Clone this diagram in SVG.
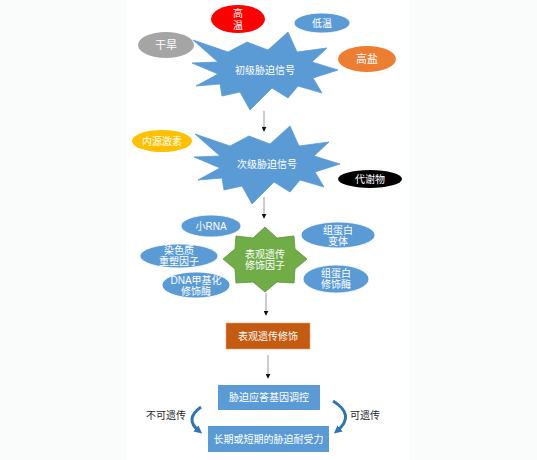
<svg xmlns="http://www.w3.org/2000/svg" width="537" height="460" viewBox="0 0 537 460">
<defs>
<style>
text{font-family:"Liberation Sans","Noto Sans CJK SC",sans-serif;font-size:10px;text-anchor:middle;dominant-baseline:central}
.w{fill:#ffffff}
.d{fill:#262626}
.blue{fill:#5b9bd5;stroke:#ffffff;stroke-width:0.8}
.star{fill:#5b9bd5;stroke:#5b9bd5;stroke-width:0.8}
.ln{stroke:#9a9a9a;stroke-width:1;fill:none}
.cv{stroke:#2e75b6;stroke-width:3;fill:none}
</style>
<marker id="ah" viewBox="0 0 6 6" refX="5" refY="3" markerWidth="5" markerHeight="5" orient="auto" markerUnits="userSpaceOnUse">
<path d="M0,0 L6,3 L0,6 z" fill="#111"/>
</marker>
<marker id="ch" viewBox="0 0 8 8" refX="4" refY="4" markerWidth="8" markerHeight="8" orient="auto" markerUnits="userSpaceOnUse">
<path d="M0,0 L8,4 L0,8 z" fill="#2e75b6"/>
</marker>
<polygon id="burst" points="-71,-30 -36,-18 -17,-28 4,-20 24,-38 33,-18 63,-22 48,-8 74,0 49,8 58,23 34,16 24,28 8,18 -14,40 -24,22 -42,26 -44,14 -68,16 -46,4 -72,-7 -46,-8"/>
</defs>
<rect x="0" y="0" width="537" height="460" fill="#fafbfb"/>
<rect x="127" y="0" width="282" height="460" fill="#ffffff"/>

<g id="connectors">
<line class="ln" x1="264" y1="111" x2="264" y2="131" marker-end="url(#ah)"/>
<line class="ln" x1="264" y1="197" x2="264" y2="218" marker-end="url(#ah)"/>
<line class="ln" x1="266" y1="293" x2="266" y2="315" marker-end="url(#ah)"/>
<line class="ln" x1="268" y1="355" x2="268" y2="378" marker-end="url(#ah)"/>
<path class="cv" d="M201,407 Q184,419 199,431" marker-end="url(#ch)"/>
<path class="cv" d="M333,401 Q356,415 337,431" marker-end="url(#ch)"/>
</g>

<g id="primary-signal">
<use href="#burst" class="star" transform="translate(264,70)"/>
<text class="w" x="265" y="70">初级胁迫信号</text>
</g>
<g id="high-temp">
<ellipse cx="238" cy="19" rx="27" ry="14" fill="#ff0000"/>
<text class="w" x="238" y="13">高</text>
<text class="w" x="238" y="25">温</text>
</g>
<g id="low-temp">
<ellipse class="blue" cx="322" cy="23" rx="28" ry="10"/>
<text class="w" x="322" y="23">低温</text>
</g>
<g id="drought">
<ellipse cx="166" cy="45" rx="28" ry="13" fill="#a5a5a5"/>
<text class="w" x="166" y="45" style="font-size:11px">干旱</text>
</g>
<g id="high-salt">
<ellipse cx="367" cy="59" rx="29" ry="13" fill="#ed7d31"/>
<text class="w" x="367" y="59" style="font-size:11px">高盐</text>
</g>

<g id="secondary-signal">
<use href="#burst" class="star" transform="translate(266,164)"/>
<text class="w" x="267" y="164">次级胁迫信号</text>
</g>
<g id="hormone">
<ellipse cx="162" cy="141" rx="30" ry="11" fill="#ffc000"/>
<text class="w" x="162" y="141">内源激素</text>
</g>
<g id="metabolite">
<ellipse cx="370" cy="179" rx="32" ry="9" fill="#000000"/>
<text class="w" x="370" y="179">代谢物</text>
</g>

<g id="epi-factor">
<polygon points="265,227 277,238 294,236 295,249 307,259 295,269 294,283 277,282 265,292 253,282 236,283 235,269 223,259 235,249 236,236 253,238" fill="#70ad47" stroke="#5a8f3a" stroke-width="0.8"/>
<text class="w" x="265" y="254">表观遗传</text>
<text class="w" x="265" y="265">修饰因子</text>
</g>
<g id="small-rna">
<ellipse class="blue" cx="211" cy="226" rx="30" ry="11"/>
<text class="w" x="211" y="226">小RNA</text>
</g>
<g id="chromatin">
<ellipse class="blue" cx="179" cy="256" rx="39" ry="12"/>
<text class="w" x="179" y="250">染色质</text>
<text class="w" x="179" y="261">重塑因子</text>
</g>
<g id="dna-methyl">
<ellipse class="blue" cx="196" cy="285" rx="34" ry="13"/>
<text class="w" x="196" y="280">DNA甲基化</text>
<text class="w" x="196" y="291">修饰酶</text>
</g>
<g id="histone-variant">
<ellipse class="blue" cx="338" cy="235" rx="37" ry="13"/>
<text class="w" x="338" y="230">组蛋白</text>
<text class="w" x="338" y="241">变体</text>
</g>
<g id="histone-enzyme">
<ellipse class="blue" cx="336" cy="279" rx="33" ry="14"/>
<text class="w" x="336" y="273">组蛋白</text>
<text class="w" x="336" y="284">修饰酶</text>
</g>

<g id="epi-mod">
<rect x="226" y="323" width="84" height="26" fill="#c55a11" stroke="#e9a27a" stroke-width="0.6"/>
<text class="w" x="268" y="336">表观遗传修饰</text>
</g>
<g id="gene-reg">
<rect x="218" y="385" width="102" height="25" fill="#5b9bd5"/>
<text class="w" x="269" y="397.5">胁迫应答基因调控</text>
</g>
<g id="tolerance">
<rect x="208" y="426" width="121" height="26" fill="#5b9bd5"/>
<text class="w" x="268.5" y="439">长期或短期的胁迫耐受力</text>
</g>
<g id="labels">
<text class="d" x="166" y="415">不可遗传</text>
<text class="d" x="365" y="415">可遗传</text>
</g>
</svg>
